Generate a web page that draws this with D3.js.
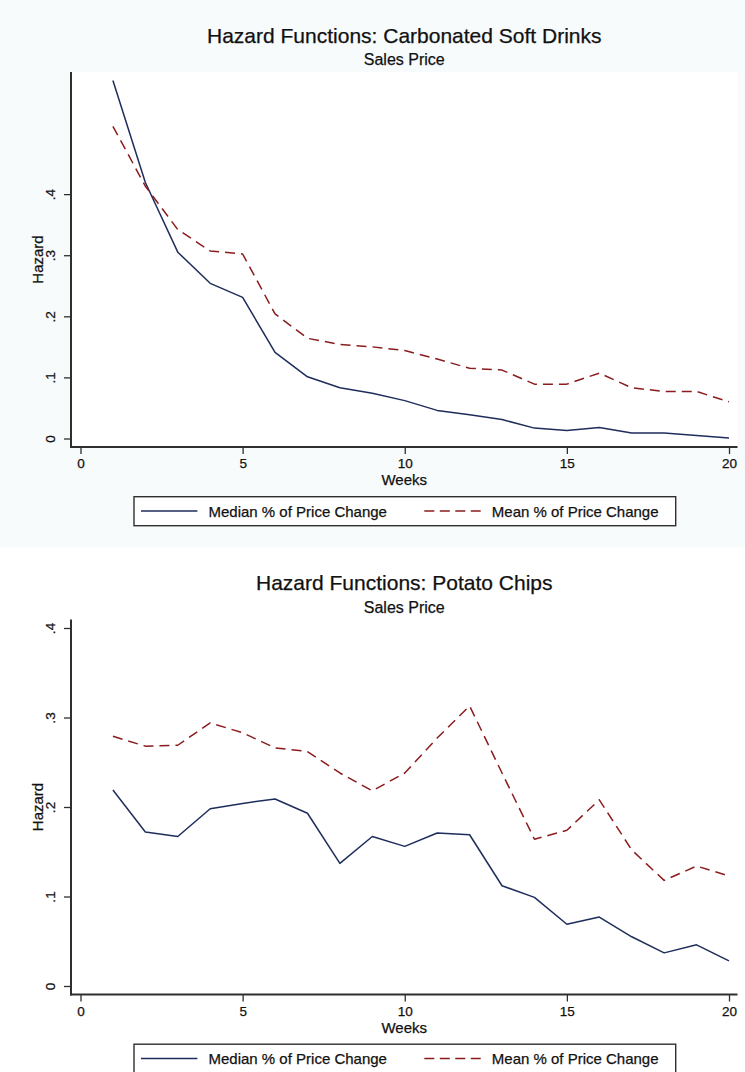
<!DOCTYPE html>
<html>
<head>
<meta charset="utf-8">
<script src="https://cdn.jsdelivr.net/npm/d3@7"></script>
<style>
  html, body { margin: 0; padding: 0; background: #ffffff; }
  svg { display: block; font-family: "Liberation Sans", Arial, Helvetica, sans-serif; }
  text { stroke: #111; stroke-width: 0.25px; }
</style>
</head>
<body>
<svg id="chart" width="745" height="1072"></svg>
<script>
// ---- data ----
const weeks = [1, 2, 3, 4, 5, 6, 7, 8, 9, 10, 11, 12, 13, 14, 15, 16, 17, 18, 19, 20];

const sodaMedian = [0.586, 0.419, 0.305, 0.254, 0.231, 0.141, 0.101, 0.083, 0.074, 0.062,
                    0.046, 0.039, 0.031, 0.017, 0.013, 0.018, 0.009, 0.009, 0.005, 0.001];
const sodaMean   = [0.511, 0.413, 0.342, 0.307, 0.302, 0.204, 0.164, 0.154, 0.150, 0.144,
                    0.130, 0.115, 0.112, 0.089, 0.089, 0.107, 0.083, 0.077, 0.077, 0.060];

const chipsMedian = [0.219, 0.172, 0.167, 0.198, 0.204, 0.209, 0.193, 0.137, 0.167, 0.156,
                     0.171, 0.169, 0.112, 0.099, 0.069, 0.077, 0.055, 0.037, 0.046, 0.028];
const chipsMean   = [0.279, 0.268, 0.269, 0.294, 0.283, 0.266, 0.262, 0.238, 0.218, 0.238,
                     0.277, 0.313, 0.238, 0.164, 0.174, 0.208, 0.152, 0.118, 0.134, 0.123];

const xTicks = [0, 5, 10, 15, 20];
const yTicks = [0, 0.1, 0.2, 0.3, 0.4];
const yTickLabels = ["0", ".1", ".2", ".3", ".4"];

const seriesNames = ["Median % of Price Change", "Mean % of Price Change"];
const panelTitles = ["Hazard Functions: Carbonated Soft Drinks", "Hazard Functions: Potato Chips"];
const panelSubtitle = "Sales Price";
const xTitle = "Weeks";
const yTitle = "Hazard";

// ---- styling / layout ----
const W = 745;
const PANEL_H = 547.5;
const COL_MEDIAN = "#1e2d5c";
const COL_MEAN = "#8b1c1e";
const AXIS_COL = "#2f2f2f";
const TEXT_COL = "#111";
const L = { left: 71, right: 737.5, top: 72, bottom: 447, padX0: 9.5, padX1: 8.5, padY: 8.5 };

const svg = d3.select("#chart");

function drawPanel(offset, title, median, mean, bg) {
  const g = svg.append("g").attr("transform", `translate(0,${offset})`);

  // graph region and plot region
  g.append("rect").attr("x", 0).attr("y", 0).attr("width", W).attr("height", PANEL_H + 0.5)
    .attr("fill", bg);
  g.append("rect").attr("x", L.left).attr("y", L.top)
    .attr("width", L.right - L.left).attr("height", L.bottom - L.top).attr("fill", "#ffffff");

  const x = d3.scaleLinear().domain([0, 20]).range([L.left + L.padX0, L.right - L.padX1]);
  const yMax = Math.max(d3.max(median), d3.max(mean), d3.max(yTicks));
  const y = d3.scaleLinear().domain([0, yMax]).range([L.bottom - L.padY, L.top + L.padY]);

  // titles
  const cx = (L.left + L.right) / 2;
  g.append("text").attr("x", cx).attr("y", 42.5).attr("text-anchor", "middle")
    .attr("font-size", 21).attr("fill", TEXT_COL).text(title);
  g.append("text").attr("x", cx).attr("y", 65).attr("text-anchor", "middle")
    .attr("font-size", 16).attr("fill", TEXT_COL).text(panelSubtitle);

  // x axis
  const xAxis = g.append("g").attr("transform", `translate(0,${L.bottom})`)
    .call(d3.axisBottom(x).tickValues(xTicks).tickSize(7).tickSizeOuter(0).tickFormat(d3.format("d")));
  xAxis.select(".domain").remove();
  xAxis.selectAll(".tick line").attr("stroke", AXIS_COL).attr("stroke-width", 1.3);
  xAxis.selectAll(".tick text").attr("y", 21).attr("dy", null)
    .attr("font-size", 13.5).attr("fill", TEXT_COL);
  xAxis.attr("font-family", null);

  // y axis
  const yAxis = g.append("g").attr("transform", `translate(${L.left},0)`)
    .call(d3.axisLeft(y).tickValues(yTicks).tickSize(7).tickSizeOuter(0)
      .tickFormat((d, i) => yTickLabels[i]));
  yAxis.select(".domain").remove();
  yAxis.selectAll(".tick line").attr("stroke", AXIS_COL).attr("stroke-width", 1.3);
  yAxis.selectAll(".tick text").attr("x", null).attr("dy", null)
    .attr("text-anchor", "middle").attr("transform", "translate(-16,0) rotate(-90)")
    .attr("font-size", 13.5).attr("fill", TEXT_COL);
  yAxis.attr("font-family", null);

  // axis lines
  g.append("line").attr("x1", L.left).attr("x2", L.left).attr("y1", L.top).attr("y2", L.bottom + 1)
    .attr("stroke", AXIS_COL).attr("stroke-width", 2);
  g.append("line").attr("x1", L.left - 1).attr("x2", L.right).attr("y1", L.bottom).attr("y2", L.bottom)
    .attr("stroke", AXIS_COL).attr("stroke-width", 2);

  // axis titles
  g.append("text").attr("x", cx).attr("y", 485).attr("text-anchor", "middle")
    .attr("font-size", 15).attr("fill", TEXT_COL).text(xTitle);
  g.append("text").attr("transform", `translate(43.3,${(L.top + L.bottom) / 2}) rotate(-90)`)
    .attr("text-anchor", "middle").attr("font-size", 15).attr("fill", TEXT_COL).text(yTitle);

  // series
  const line = d3.line().x((d, i) => x(weeks[i])).y(d => y(d));
  g.append("path").datum(median).attr("d", line).attr("fill", "none")
    .attr("stroke", COL_MEDIAN).attr("stroke-width", 1.5).attr("stroke-linejoin", "round");
  g.append("path").datum(mean).attr("d", line).attr("fill", "none")
    .attr("stroke", COL_MEAN).attr("stroke-width", 1.5).attr("stroke-dasharray", "10,6")
    .attr("stroke-linejoin", "round");

  // legend
  const lg = g.append("g");
  lg.append("rect").attr("x", 134).attr("y", 496.7).attr("width", 541.7).attr("height", 29)
    .attr("fill", "#ffffff").attr("stroke", AXIS_COL).attr("stroke-width", 1.4);
  const keys = [
    { name: seriesNames[0], color: COL_MEDIAN, dash: null, x0: 141 },
    { name: seriesNames[1], color: COL_MEAN, dash: "10,5.5", x0: 424.3 }
  ];
  keys.forEach(k => {
    lg.append("line").attr("x1", k.x0).attr("x2", k.x0 + 56.4).attr("y1", 511).attr("y2", 511)
      .attr("stroke", k.color).attr("stroke-width", 1.5).attr("stroke-dasharray", k.dash);
    lg.append("text").attr("x", k.x0 + 67.5).attr("y", 516.8).attr("font-size", 15)
      .attr("fill", TEXT_COL).text(k.name);
  });
}

drawPanel(0, panelTitles[0], sodaMedian, sodaMean, "#f7fbfc");
drawPanel(PANEL_H, panelTitles[1], chipsMedian, chipsMean, "#ffffff");
</script>
</body>
</html>
